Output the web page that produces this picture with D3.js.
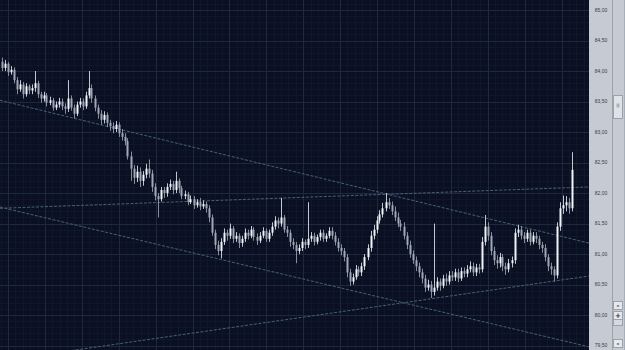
<!DOCTYPE html>
<html>
<head>
<meta charset="utf-8">
<script src="https://cdn.jsdelivr.net/npm/d3@7"></script>
<style>
  body { margin: 0; background: #0a1021; }
  svg { display: block; }
</style>
</head>
<body>
<svg id="chart" width="625" height="350"></svg>
<script>
// candle data, one entry per bar (left to right)
var opens = [
  84.15,84.05,84.12,83.98,84.02,83.85,83.70,83.78,83.62,83.75,
  83.68,83.72,83.80,83.62,83.55,83.60,83.48,83.52,83.40,83.45,
  83.50,83.42,83.38,83.55,83.40,83.30,83.45,83.50,83.42,83.60,
  83.72,83.55,83.40,83.30,83.20,83.28,83.15,83.10,83.05,83.12,
  82.98,82.92,82.85,82.60,82.40,82.25,82.35,82.20,82.30,82.40,
  82.32,82.10,81.95,81.90,82.05,82.00,82.10,82.15,82.05,82.20,
  82.08,81.95,81.98,81.85,81.90,81.80,81.85,81.78,81.82,81.75,
  81.60,81.35,81.15,81.05,81.20,81.35,81.30,81.42,81.25,81.30,
  81.18,81.25,81.35,81.30,81.40,81.28,81.22,81.30,81.38,81.25,
  81.35,81.45,81.55,81.50,81.60,81.40,81.35,81.20,81.15,81.05,
  81.10,81.20,81.15,81.25,81.30,81.20,81.28,81.35,81.25,81.30,
  81.38,81.30,81.20,81.10,81.05,80.95,80.70,80.55,80.62,80.75,
  80.70,80.80,80.95,81.10,81.30,81.40,81.55,81.65,81.75,81.85,
  81.80,81.70,81.60,81.50,81.45,81.30,81.15,81.00,80.90,80.80,
  80.70,80.60,80.45,80.50,80.38,80.45,80.55,80.48,80.60,80.55,
  80.65,80.62,80.70,80.60,80.72,80.68,80.75,80.80,80.70,80.78,
  80.75,81.20,81.45,81.30,81.05,80.90,80.85,80.95,80.80,80.75,
  80.85,80.90,81.35,81.40,81.30,81.25,81.35,81.20,81.30,81.25,
  81.15,81.10,80.95,80.80,80.75,80.65,81.45,81.75,81.80,81.85,81.75
];
var highs = [
  84.22,84.18,84.15,84.08,84.06,83.90,83.85,83.82,83.80,83.78,
  83.78,84.00,83.84,83.66,83.66,83.64,83.58,83.56,83.50,83.56,
  83.55,83.47,83.85,83.60,83.45,83.50,83.56,83.55,83.66,84.00,
  83.78,83.60,83.45,83.36,83.34,83.32,83.20,83.16,83.18,83.16,
  83.05,82.98,82.90,82.68,82.46,82.45,82.42,82.36,82.48,82.55,
  82.38,82.16,82.00,82.10,82.10,82.16,82.22,82.20,82.35,82.24,
  82.12,82.04,82.02,81.96,81.95,81.90,81.92,81.88,81.86,81.80,
  81.65,81.40,81.22,81.26,81.42,81.40,81.50,81.46,81.36,81.34,
  81.30,81.42,81.40,81.46,81.44,81.34,81.36,81.44,81.42,81.40,
  81.52,81.62,81.60,81.92,81.64,81.46,81.40,81.26,81.20,81.16,
  81.26,81.24,81.85,81.36,81.35,81.32,81.40,81.40,81.34,81.44,
  81.44,81.36,81.26,81.16,81.10,81.00,80.76,80.68,80.82,80.80,
  80.86,81.00,81.16,81.38,81.48,81.62,81.72,81.84,82.00,81.92,
  81.86,81.78,81.68,81.56,81.52,81.36,81.22,81.06,80.96,80.86,
  80.76,80.66,80.58,80.56,81.50,80.62,80.60,80.66,80.68,80.72,
  80.72,80.76,80.76,80.78,80.78,80.82,80.88,80.86,80.84,80.84,
  81.28,81.64,81.52,81.36,81.12,80.98,81.02,81.00,80.86,80.92,
  80.96,81.42,81.48,81.46,81.36,81.40,81.40,81.36,81.36,81.30,
  81.20,81.16,81.00,80.86,80.80,81.52,81.85,81.96,81.95,81.92,82.67
];
var lows = [
  84.00,84.00,83.92,83.94,83.80,83.62,83.66,83.55,83.58,83.62,
  83.62,83.66,83.56,83.48,83.50,83.42,83.44,83.35,83.36,83.40,
  83.36,83.30,83.33,83.35,83.22,83.26,83.40,83.36,83.38,83.55,
  83.48,83.34,83.22,83.12,83.14,83.08,83.02,82.98,83.00,82.92,
  82.86,82.78,82.55,82.20,82.15,82.18,82.10,82.12,82.24,82.25,
  82.02,81.88,81.60,81.86,81.92,81.94,82.05,81.98,82.00,82.00,
  81.90,81.90,81.80,81.82,81.74,81.76,81.72,81.74,81.68,81.52,
  81.30,81.08,80.98,80.93,81.15,81.22,81.25,81.18,81.20,81.10,
  81.12,81.20,81.24,81.26,81.22,81.15,81.18,81.26,81.20,81.20,
  81.30,81.40,81.42,81.45,81.35,81.28,81.12,81.08,80.85,81.00,
  81.05,81.08,81.10,81.20,81.14,81.16,81.22,81.20,81.20,81.26,
  81.24,81.14,81.04,80.98,80.88,80.62,80.48,80.50,80.58,80.64,
  80.64,80.74,80.90,81.04,81.24,81.34,81.50,81.60,81.70,81.74,
  81.64,81.54,81.44,81.38,81.24,81.08,80.94,80.84,80.72,80.62,
  80.52,80.38,80.40,80.28,80.32,80.40,80.40,80.44,80.48,80.50,
  80.56,80.56,80.54,80.56,80.62,80.62,80.70,80.64,80.64,80.68,
  80.70,81.14,81.22,80.98,80.82,80.76,80.78,80.72,80.66,80.70,
  80.78,80.84,81.28,81.24,81.18,81.20,81.14,81.16,81.18,81.08,
  81.02,80.88,80.72,80.66,80.55,80.60,81.38,81.66,81.70,81.66,81.70
];
var closes = [
  84.05,84.12,83.98,84.02,83.85,83.70,83.78,83.62,83.75,83.68,
  83.72,83.80,83.62,83.55,83.60,83.48,83.52,83.40,83.45,83.50,
  83.42,83.38,83.55,83.40,83.30,83.45,83.50,83.42,83.60,83.72,
  83.55,83.40,83.30,83.20,83.28,83.15,83.10,83.05,83.12,82.98,
  82.92,82.85,82.60,82.40,82.25,82.35,82.20,82.30,82.40,82.32,
  82.10,81.95,81.90,82.05,82.00,82.10,82.15,82.05,82.20,82.08,
  81.95,81.98,81.85,81.90,81.80,81.85,81.78,81.82,81.75,81.60,
  81.35,81.15,81.05,81.20,81.35,81.30,81.42,81.25,81.30,81.18,
  81.25,81.35,81.30,81.40,81.28,81.22,81.30,81.38,81.25,81.35,
  81.45,81.55,81.50,81.60,81.40,81.35,81.20,81.15,81.05,81.10,
  81.20,81.15,81.25,81.30,81.20,81.28,81.35,81.25,81.30,81.38,
  81.30,81.20,81.10,81.05,80.95,80.70,80.55,80.62,80.75,80.70,
  80.80,80.95,81.10,81.30,81.40,81.55,81.65,81.75,81.85,81.80,
  81.70,81.60,81.50,81.45,81.30,81.15,81.00,80.90,80.80,80.70,
  80.60,80.45,80.50,80.38,80.45,80.55,80.48,80.60,80.55,80.65,
  80.62,80.70,80.60,80.72,80.68,80.75,80.80,80.70,80.78,80.75,
  81.20,81.45,81.30,81.05,80.90,80.85,80.95,80.80,80.75,80.85,
  80.90,81.35,81.40,81.30,81.25,81.35,81.20,81.30,81.25,81.15,
  81.10,80.95,80.80,80.75,80.65,81.45,81.75,81.80,81.85,81.75,82.38
];

// price labels on the right scale
var priceTicks = [85, 84.5, 84, 83.5, 83, 82.5, 82, 81.5, 81, 80.5, 80, 79.5];

// drawn trend lines: [bar index, price] -> [bar index, price]
var trendLines = [
  [[-0.5, 83.52], [195.8, 81.18]],
  [[-0.5, 81.75], [195.8, 82.10]],
  [[-0.5, 81.77], [195.8, 79.48]],
  [[-0.5, 79.25], [195.8, 80.64]]
];

var width = 625, height = 350,
    plotRight = 589;

var svg = d3.select('#chart');

var x = d3.scaleLinear().domain([0, closes.length - 1]).range([1.5, 571.5]);
var y = d3.scaleLinear().domain([79.5, 85]).range([345.6, 10]);

var candles = closes.map((c, i) => ({i: i, o: opens[i], h: highs[i], l: lows[i], c: c}));

svg.append('rect')
   .attr('width', plotRight).attr('height', height)
   .attr('fill', '#0a1021');

svg.append('clipPath').attr('id', 'plot-clip')
   .append('rect').attr('width', plotRight).attr('height', height);

let plot = svg.append('g').attr('clip-path', 'url(#plot-clip)');

// grid: minor first, then major on top
let xMajorStep = 12.3,
    xStart = 2.17;
let xMinor = d3.range(xStart - xMajorStep, 200, xMajorStep / 5),
    xMajor = d3.range(xStart, 200, xMajorStep),
    yMinor = d3.range(79.3, 85.25, 0.1),
    yMajor = d3.range(79.5, 85.01, 0.5);

plot.selectAll('.vminor').data(xMinor).enter().append('line')
    .attr('x1', d => Math.round(x(d)) + 0.5).attr('x2', d => Math.round(x(d)) + 0.5)
    .attr('y1', 0).attr('y2', height)
    .attr('stroke', '#0f172a').attr('stroke-width', 1);
plot.selectAll('.hminor').data(yMinor).enter().append('line')
    .attr('y1', d => Math.round(y(d)) + 0.5).attr('y2', d => Math.round(y(d)) + 0.5)
    .attr('x1', 0).attr('x2', plotRight)
    .attr('stroke', '#0f172a').attr('stroke-width', 1);
plot.selectAll('.vmajor').data(xMajor).enter().append('line')
    .attr('x1', d => Math.round(x(d)) + 0.5).attr('x2', d => Math.round(x(d)) + 0.5)
    .attr('y1', 0).attr('y2', height)
    .attr('stroke', '#1e283e').attr('stroke-width', 1);
plot.selectAll('.hmajor').data(yMajor).enter().append('line')
    .attr('y1', d => Math.round(y(d)) + 0.5).attr('y2', d => Math.round(y(d)) + 0.5)
    .attr('x1', 0).attr('x2', plotRight)
    .attr('stroke', '#1e283e').attr('stroke-width', 1);

// trend lines
plot.selectAll('.trend').data(trendLines).enter().append('line')
    .attr('x1', d => x(d[0][0])).attr('y1', d => y(d[0][1]))
    .attr('x2', d => x(d[1][0])).attr('y2', d => y(d[1][1]))
    .attr('stroke', '#44627488'.slice(0, 7)).attr('stroke-width', 1)
    .attr('stroke-dasharray', '3,1.5');

// candles
let bars = plot.selectAll('.candle').data(candles).enter().append('g');

bars.append('line')
    .attr('x1', d => Math.round(x(d.i)) + 0.5).attr('x2', d => Math.round(x(d.i)) + 0.5)
    .attr('y1', d => y(d.h)).attr('y2', d => y(d.l))
    .attr('stroke', d => d.c >= d.o ? '#c2c8d2' : '#858e9e')
    .attr('stroke-width', 1);

bars.append('rect')
    .attr('x', d => Math.round(x(d.i)) - 0.5)
    .attr('width', 2)
    .attr('y', d => y(Math.max(d.o, d.c)))
    .attr('height', d => Math.max(1, Math.abs(y(d.o) - y(d.c))))
    .attr('fill', d => d.c >= d.o ? '#f0f3f7' : '#a0a8b7');

// right price scale panel
let axisG = svg.append('g');
axisG.append('rect')
     .attr('x', plotRight).attr('width', width - plotRight).attr('height', height)
     .attr('fill', '#c5cad3');

axisG.selectAll('text').data(priceTicks).enter().append('text')
     .attr('x', 601).attr('y', d => y(d) + 1.8)
     .attr('text-anchor', 'middle')
     .attr('font-family', 'Liberation Sans, Arial, sans-serif')
     .attr('font-size', 5)
     .attr('fill', '#3a3e46')
     .text(d => d3.format('.2f')(d).replace('.', ','));

// scroll strip at the far right
axisG.append('line')
     .attr('x1', 612.5).attr('x2', 612.5).attr('y1', 0).attr('y2', height)
     .attr('stroke', '#9ca2ad');
axisG.append('line')
     .attr('x1', 624.5).attr('x2', 624.5).attr('y1', 0).attr('y2', height)
     .attr('stroke', '#a9afb9');
axisG.append('rect')
     .attr('x', 613.5).attr('y', 95.5).attr('width', 9).attr('height', 23)
     .attr('fill', '#dfe2e7').attr('stroke', '#9ca2ad');
axisG.append('rect')
     .attr('x', 616.5).attr('y', 103.5).attr('width', 3).attr('height', 4)
     .attr('fill', '#aeb3bc');

let buttons = [{y: 301, t: '-'}, {y: 311, t: '+'}, {y: 339, t: '-'}];
axisG.selectAll('.btn').data(buttons).enter().append('rect')
     .attr('x', 613.5).attr('y', d => d.y + 0.5).attr('width', 9).attr('height', 8)
     .attr('fill', '#e6e8ec').attr('stroke', '#9ca2ad');
axisG.append('rect')
     .attr('x', 613.5).attr('y', 319.5).attr('width', 9).attr('height', 6)
     .attr('fill', '#d6d9de').attr('stroke', '#9ca2ad');
axisG.selectAll('.btnt').data(buttons).enter().append('text')
     .attr('x', 618).attr('y', d => d.y + 7)
     .attr('text-anchor', 'middle')
     .attr('font-family', 'DejaVu Sans, sans-serif')
     .attr('font-size', 7).attr('font-weight', 'bold')
     .attr('fill', '#333')
     .text(d => d.t);
</script>
</body>
</html>
